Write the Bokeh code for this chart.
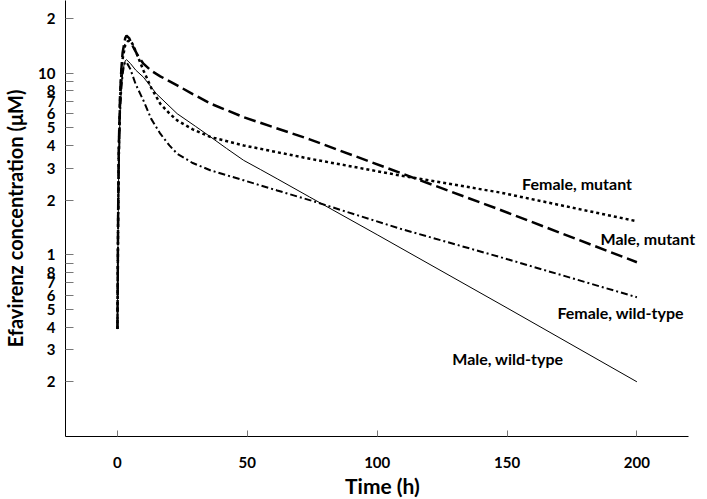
from bokeh.plotting import figure
from bokeh.models import FixedTicker, Label
from bokeh.embed import file_html
from bokeh.resources import INLINE

# ---- data ----
t_male_wt = [0, 0.25, 0.5, 1, 1.5, 2, 2.5, 3, 3.5, 5, 7, 10, 15, 23, 30, 36, 42, 48.6, 55, 61.5, 74, 100, 150, 200]
c_male_wt = [0.39, 1.4, 3.0, 6.0, 8.2, 9.9, 11.0, 11.7, 11.85, 11.3, 10.4, 9.5, 7.7, 5.98, 5.1, 4.44, 3.85, 3.31, 2.95, 2.62, 2.08, 1.29, 0.51, 0.2]

t_female_wt = [0, 0.25, 0.5, 1, 1.5, 2, 2.5, 3, 3.5, 5, 7, 10, 13, 16.5, 20, 23, 29, 36, 48.6, 61.5, 74, 109, 147.5, 200]
c_female_wt = [0.39, 1.4, 3.0, 6.0, 8.2, 9.9, 11.0, 11.5, 11.5, 10.5, 8.7, 7.07, 5.6, 4.64, 4.0, 3.6, 3.2, 2.91, 2.57, 2.26, 2.0, 1.39, 0.97, 0.584]

t_female_mut = [0, 0.25, 0.5, 1, 1.5, 2, 3, 4, 5, 6, 8, 10, 13, 16.5, 20, 23, 29, 36, 48.6, 61.5, 74, 109, 147.5, 200]
c_female_mut = [0.39, 1.5, 3.5, 7.0, 9.8, 12.0, 14.3, 15.0, 15.1, 14.3, 12.2, 10.35, 8.3, 6.78, 6.0, 5.49, 4.9, 4.44, 4.0, 3.67, 3.38, 2.73, 2.2, 1.53]

t_male_mut = [0, 0.25, 0.5, 1, 1.5, 2, 3, 3.5, 4.5, 6, 8, 10, 13, 16.5, 23, 29, 36, 48.6, 61.5, 74, 109, 147.5, 200]
c_male_mut = [0.39, 1.6, 3.8, 7.5, 10.5, 13.0, 15.6, 16.1, 15.6, 14.0, 12.4, 11.27, 10.3, 9.6, 8.56, 7.67, 6.78, 5.72, 4.96, 4.32, 2.82, 1.765, 0.91]

series_labels = ["Female, mutant", "Male, mutant", "Female, wild-type", "Male, wild-type"]

x_ticks = [0, 50, 100, 150, 200]
y_ticks = [0.2, 0.3, 0.4, 0.5, 0.6, 0.7, 0.8, 1, 2, 3, 4, 5, 6, 7, 8, 10, 20]
y_minor = [0.9, 9]
y_tick_labels = ["2", "3", "4", "5", "6", "7", "8", "1", "2", "3", "4", "5", "6", "7", "8", "10", "2"]

# label placement (positions only)
label_x = [155.8, 186.0, 169.4, 128.9]
label_y = [2.46, 1.225, 0.481, 0.2675]

FONT = "Lato"

p = figure(frame_width=634, frame_height=436, output_backend="svg", toolbar_location=None,
           x_range=(-20, 224.1), y_range=(0.1, 25.1), y_axis_type="log",
           min_border_left=57, min_border_right=0, min_border_top=0, min_border_bottom=10)
p.outline_line_color = None
p.grid.visible = False
p.background_fill_color = "white"

p.line(t_male_wt, c_male_wt, line_color="black", line_width=1)
p.line(t_female_wt, c_female_wt, line_color="black", line_width=2, line_dash="7 3 2 3")
p.line(t_female_mut, c_female_mut, line_color="black", line_width=2.5, line_dash="3 3")
p.line(t_male_mut, c_male_mut, line_color="black", line_width=2.5, line_dash="12 5")

for txt, lx, ly in zip(series_labels, label_x, label_y):
    p.add_layout(Label(x=lx, y=ly, text=txt, text_font=FONT, text_font_style="bold",
                       text_font_size="16px", text_align="left", text_baseline="middle",
                       text_color="black"))

# x axis
xa = p.xaxis[0]
xa.ticker = FixedTicker(ticks=x_ticks)
xa.bounds = (-20, 220)
xa.major_tick_in = 6
xa.major_tick_out = 0
xa.minor_tick_line_color = None
xa.major_tick_line_color = "#777777"
xa.axis_line_color = "black"
xa.major_label_standoff = 20
xa.major_label_text_font = FONT
xa.major_label_text_font_style = "bold"
xa.major_label_text_font_size = "15px"
xa.major_label_text_color = "black"
xa.axis_label = "Time (h)"
xa.axis_label_text_font = FONT
xa.axis_label_text_font_style = "bold"
xa.axis_label_text_font_size = "21px"
xa.axis_label_text_color = "black"
xa.axis_label_standoff = 2

# y axis
ya = p.yaxis[0]
ya.ticker = FixedTicker(ticks=y_ticks, minor_ticks=y_minor)
ya.major_label_overrides = {k: v for k, v in zip(y_ticks, y_tick_labels)}
ya.major_tick_in = 8
ya.major_tick_out = 0
ya.minor_tick_in = 8
ya.minor_tick_out = 0
ya.major_tick_line_color = "#777777"
ya.minor_tick_line_color = "#777777"
ya.axis_line_color = "black"
ya.major_label_standoff = 10
ya.major_label_text_font = FONT
ya.major_label_text_font_style = "bold"
ya.major_label_text_font_size = "15px"
ya.major_label_text_color = "black"
ya.axis_label = "Efavirenz concentration (\u03bcM)"
ya.axis_label_text_font = FONT
ya.axis_label_text_font_style = "bold"
ya.axis_label_text_font_size = "20px"
ya.axis_label_text_color = "black"
ya.axis_label_standoff = 8

open("out.html", "w").write(file_html(p, INLINE))
